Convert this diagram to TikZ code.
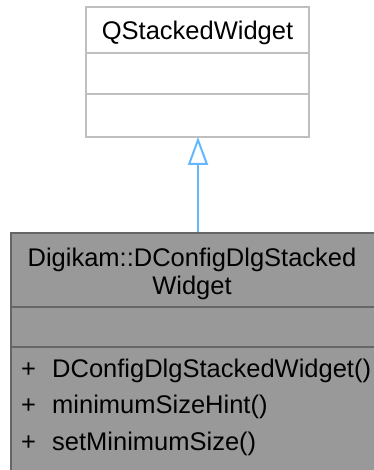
\documentclass[tikz,border=0pt]{standalone}
\usepackage{fontspec}
\setmainfont{Liberation Sans}
\usetikzlibrary{arrows.meta}
\definecolor{topborder}{HTML}{BFBFBF}
\definecolor{botfill}{HTML}{999999}
\definecolor{botborder}{HTML}{666666}
\definecolor{inh}{HTML}{63B8FF}
\begin{document}
\begin{tikzpicture}[x=1pt,y=-1pt,
  txt/.style={inner sep=0pt,anchor=base,font=\fontsize{25.5}{29}\selectfont},
  mem/.style={inner sep=0pt,anchor=base west,font=\fontsize{25.5}{29}\selectfont},
  topbox/.style={draw=topborder,fill=white,line width=2.2pt},
  botbox/.style={draw=botborder,fill=botfill,line width=2.2pt},
  inherit/.style={draw=inh,line width=2pt,-{Triangle[open,length=28pt,width=20pt,line width=2pt]}}]
\useasboundingbox (0,0) rectangle (373,470);
% top class
\draw[topbox] (86,7) rectangle (309,137);
\draw[draw=topborder,line width=2.2pt] (86,53) -- (309,53);
\draw[draw=topborder,line width=2.2pt] (86,94) -- (309,94);
\node[txt] (qsw) at (197.5,40) {QStackedWidget};
\coordinate (topbot) at (198,137);
% bottom class
\draw[botbox] (11,233) rectangle (380,480);
\coordinate (bottop) at (198,232);
\draw[draw=botborder,line width=2.2pt] (11,307) -- (380,307);
\draw[draw=botborder,line width=2.2pt] (11,347) -- (380,347);
\node[txt] (t1) at (192,266) {Digikam::DConfigDlgStacked};
\node[txt] (t2) at (192,294) {Widget};
\node[mem] (p1) at (21,377) {+};
\node[mem] (m1) at (52,377) {DConfigDlgStackedWidget()};
\node[mem] (p2) at (21,413) {+};
\node[mem] (m2) at (52,413) {minimumSizeHint()};
\node[mem] (p3) at (21,450) {+};
\node[mem] (m3) at (52,450) {setMinimumSize()};
\draw[inherit] (bottop) -- (topbot);
\end{tikzpicture}
\end{document}
